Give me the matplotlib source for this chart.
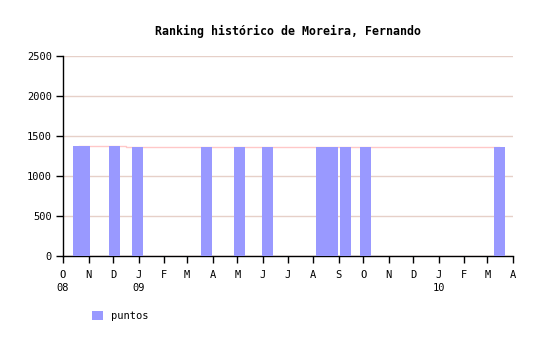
import matplotlib
matplotlib.use("Agg")
import matplotlib.pyplot as plt
import matplotlib.dates as mdates
import numpy as np
from datetime import datetime

dates = ["2008-10-20", "2008-10-27", "2008-12-03", "2008-12-30", "2009-03-25",
         "2009-05-03", "2009-06-07", "2009-08-11", "2009-08-24", "2009-09-09",
         "2009-10-04", "2010-03-15"]
puntos = [1375, 1375, 1370, 1360, 1360, 1360, 1360, 1360, 1360, 1360, 1360, 1360]
month_letters = ["O", "N", "D", "J", "F", "M", "A", "M", "J", "J", "A", "S",
                 "O", "N", "D", "J", "F", "M", "A"]
year_labels = {0: "08", 3: "09", 15: "10"}
title = "Ranking histórico de Moreira, Fernando"

plt.rcParams['font.family'] = ['DejaVu Sans Mono']

fig = plt.figure(figsize=(5.4, 3.4), dpi=100)
ax = fig.add_axes([63/540, 1-256/340, 450/540, 200/340])

x = mdates.date2num([datetime.strptime(d, "%Y-%m-%d") for d in dates])
ax.plot(x, puntos, color="#ffc8c8", lw=1, drawstyle="steps-mid", zorder=2)
bars = ax.bar(x, puntos, width=13.4, color="#9999ff", linewidth=0,
              zorder=3, label="puntos")

ax.set_ylim(0, 2500)
ax.set_yticks(np.arange(0, 2501, 500))
ax.yaxis.grid(True, color="#e6d0c8", lw=1, zorder=1)
ax.set_axisbelow(True)

ticks = []
y, m = 2008, 10
for i in range(len(month_letters)):
    ticks.append(mdates.date2num(datetime(y, m, 1)))
    m += 1
    if m > 12:
        m = 1
        y += 1
labels = [month_letters[i] + ("\n" + year_labels[i] if i in year_labels else "") for i in range(len(month_letters))]
ax.set_xticks(ticks)
ax.set_xticklabels(labels, fontsize=7.5, linespacing=1.4, va="top")
ax.set_xlim(ticks[0], ticks[-1])

for s in ["top", "right"]:
    ax.spines[s].set_visible(False)
ax.spines["left"].set_linewidth(1)
ax.spines["bottom"].set_linewidth(1)
ax.tick_params(axis="y", direction="out", length=5, width=1, labelsize=7.5, pad=3)
ax.tick_params(axis="x", direction="out", length=5, width=1, labelsize=7.5, pad=5)

fig.text(288/540, 1-31/340, title, ha="center", va="center", fontsize=8.4, fontweight="bold")

leg = fig.legend(handles=[bars[0]], labels=["puntos"], loc="center left",
                 bbox_to_anchor=(83/540, 1-316/340), frameon=False, fontsize=7.5,
                 handlelength=1.0, handleheight=1.0, handletextpad=0.8)

fig.savefig("out.png", dpi=100)
